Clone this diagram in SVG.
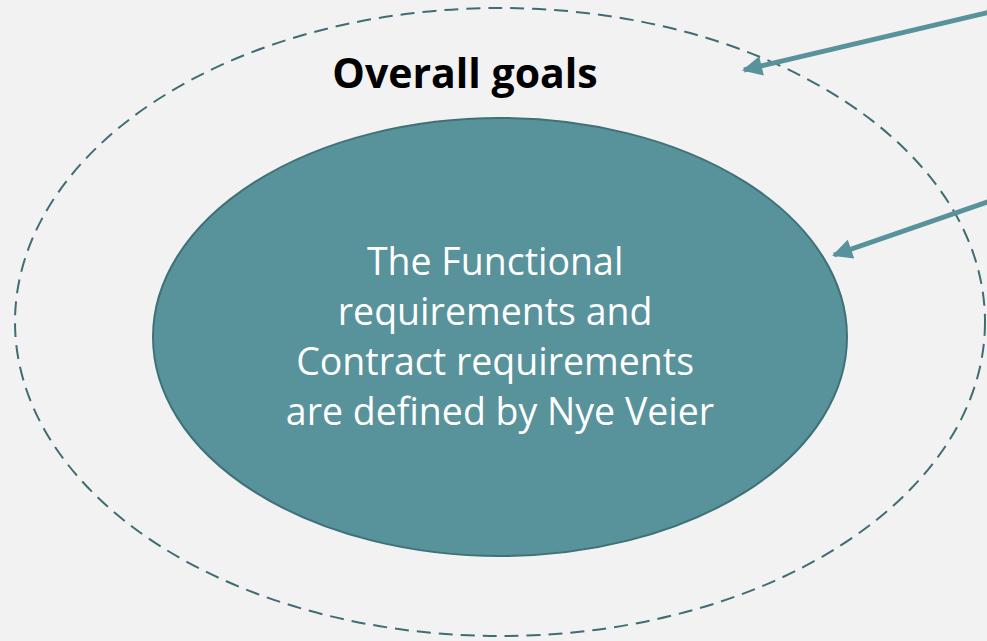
<svg xmlns="http://www.w3.org/2000/svg" width="987" height="641" viewBox="0 0 987 641">
<defs>
<style>
.bg{fill:#f2f2f2}
.outer{fill:none;stroke:#3e6d74;stroke-width:2;stroke-dasharray:14 8}
.inner{fill:#58929a;stroke:#3f7179;stroke-width:2}
.conn{stroke:#58929a;stroke-width:5;fill:none}
.title{font-family:"Open Sans","Liberation Sans",sans-serif;font-weight:bold;font-size:41px;fill:#000}
.body{font-family:"Open Sans","Liberation Sans",sans-serif;font-size:37.5px;fill:#fff}
</style>
<marker id="ah" viewBox="0 0 10 10" refX="9" refY="5" markerWidth="4.2" markerHeight="4" orient="auto" markerUnits="strokeWidth">
<path d="M0,0 L10,5 L0,10 z" fill="#58929a"/>
</marker>
</defs>
<rect class="bg" x="0" y="0" width="987" height="641"/>
<g id="outer-goals">
<ellipse class="outer" cx="500" cy="322" rx="485" ry="314"/>
<text class="title" x="465" y="88" text-anchor="middle">Overall goals</text>
</g>
<g id="inner-requirements">
<ellipse class="inner" cx="500" cy="337" rx="347" ry="219"/>
<text class="body" text-anchor="middle">
<tspan x="500" y="275">The Functional</tspan>
<tspan x="500" y="325">requirements and</tspan>
<tspan x="500" y="375">Contract requirements</tspan>
<tspan x="500" y="425">are defined by Nye Veier</tspan>
</text>
</g>
<g id="connectors">
<line class="conn" x1="990" y1="12" x2="744" y2="70" marker-end="url(#ah)"/>
<line class="conn" x1="990" y1="201" x2="834" y2="255" marker-end="url(#ah)"/>
</g>
</svg>
